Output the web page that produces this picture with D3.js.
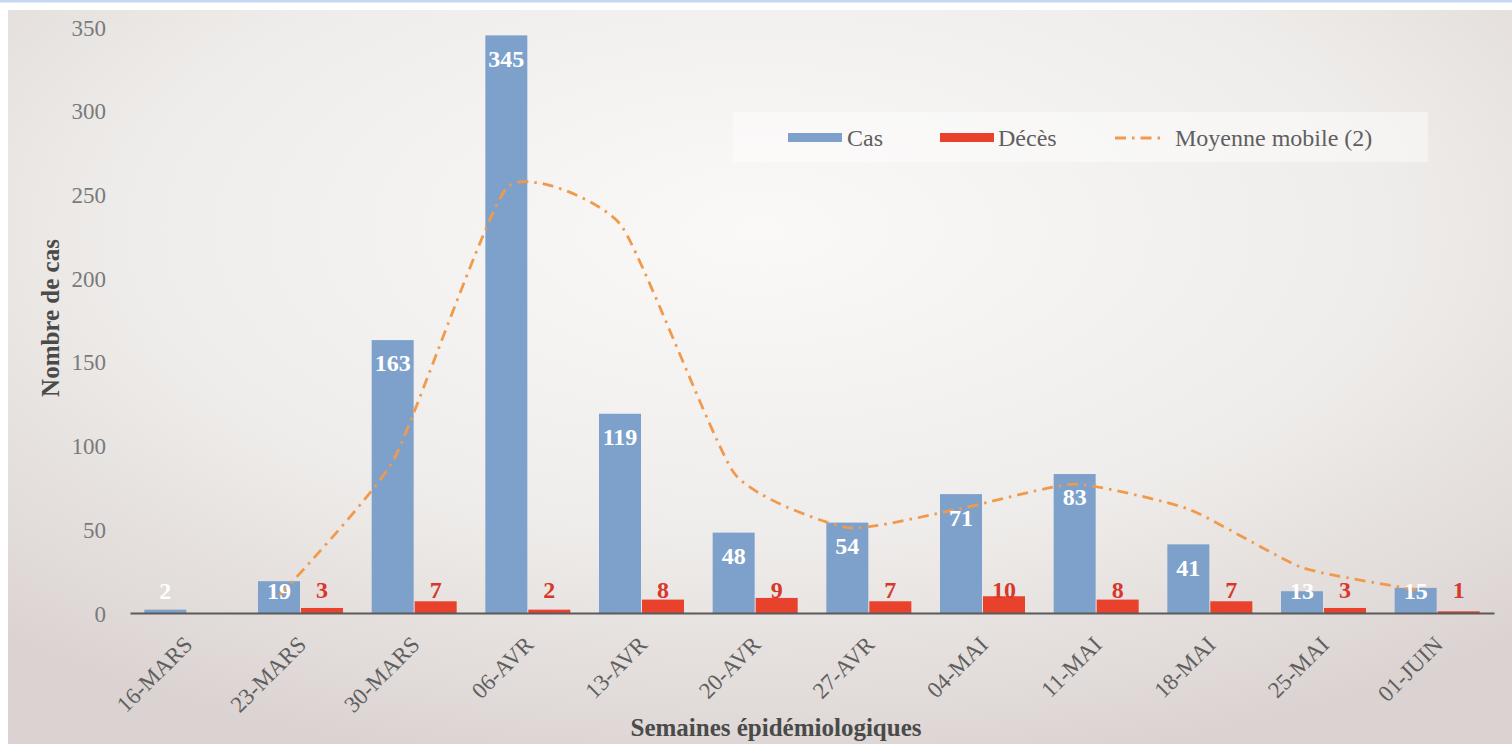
<!DOCTYPE html>
<html><head><meta charset="utf-8">
<script src="https://cdn.jsdelivr.net/npm/d3@7"></script>
<style>html,body{margin:0;padding:0;background:#fff;overflow:hidden}svg{display:block}</style>
</head><body>
<svg id="chart" width="1512" height="744"></svg>
<script>
const categories = ["16-MARS","23-MARS","30-MARS","06-AVR","13-AVR","20-AVR","27-AVR","04-MAI","11-MAI","18-MAI","25-MAI","01-JUIN"];
const cas = [2,19,163,345,119,48,54,71,83,41,13,15];
const deces = [0,3,7,2,8,9,7,10,8,7,3,1];
const moyenne = [null,10.5,91,254,232,83.5,51,62.5,77,62,27,14];
const yTicks = [0,50,100,150,200,250,300,350];
const seriesNames = ["Cas","Décès","Moyenne mobile (2)"];

const W = 1512, H = 744;
const svg = d3.select("#chart");
const font = "'Liberation Serif','Times New Roman',serif";
const colCas = "#7ea1cb", colDec = "#e8412c", colLine = "#f19a4b", txtGray = "#5f5f5f";

// background
const defs = svg.append("defs");
const rg = defs.append("radialGradient").attr("id","bg").attr("cx","50%").attr("cy","30%").attr("r","75%");
rg.append("stop").attr("offset","0%").attr("stop-color","#faf9f8");
rg.append("stop").attr("offset","55%").attr("stop-color","#efedeb");
rg.append("stop").attr("offset","100%").attr("stop-color","#dbd3d1");
svg.append("rect").attr("x",0).attr("y",0).attr("width",W).attr("height",H).attr("fill","#fff");
svg.append("rect").attr("x",0).attr("y",0).attr("width",W).attr("height",2.5).attr("fill","#c4d8ef");
svg.append("rect").attr("x",8).attr("y",10).attr("width",W-8).attr("height",H-10).attr("fill","url(#bg)");

const x = d3.scaleBand().domain(categories).range([130,1494]).paddingInner(0).paddingOuter(0);
const y = d3.scaleLinear().domain([0,350]).range([613,27]);
const bw = 42;
const cx = c => x(c) + x.bandwidth()/2;

// y tick labels
const yAxis = d3.axisLeft(y).tickValues(yTicks).tickSize(0).tickPadding(0);
const gy = svg.append("g").attr("transform","translate(106,0)").call(yAxis);
gy.select(".domain").remove();
gy.selectAll("text").attr("font-family",font).attr("font-size",23).attr("fill","#7a7a7a").attr("dy","0.35em");

// bars
svg.append("g").selectAll("rect").data(categories).join("rect")
  .attr("x",(c)=>cx(c)-bw-0.5).attr("width",bw)
  .attr("y",(c,i)=>y(cas[i])).attr("height",(c,i)=>y(0)-y(cas[i])).attr("fill",colCas);
svg.append("g").selectAll("rect").data(categories).join("rect")
  .attr("x",(c)=>cx(c)+0.5).attr("width",bw)
  .attr("y",(c,i)=>y(deces[i])).attr("height",(c,i)=>y(0)-y(deces[i])).attr("fill",colDec);

// baseline
const xAxis = d3.axisBottom(x).tickSize(0).tickPadding(0);
const gx = svg.append("g").attr("transform","translate(0,613)").call(xAxis);
gx.select(".domain").attr("stroke","#5a5a5a").attr("stroke-width",2.2);
gx.selectAll(".tick text").remove();
svg.append("g").selectAll("text").data(categories).join("text")
  .attr("transform",c=>`translate(${cx(c)+7},646) rotate(-45)`)
  .attr("text-anchor","end").attr("font-family",font).attr("font-size",23).attr("fill",txtGray)
  .text(c=>c);

// moving average line
const lineData = categories.map((c,i)=>({c, v: moyenne[i]})).filter(d=>d.v!=null);
const line = d3.line().x(d=>cx(d.c)-bw/2).y(d=>y(d.v)).curve(d3.curveCardinal.tension(0.5));
svg.append("path").datum(lineData).attr("d",line).attr("fill","none")
  .attr("stroke",colLine).attr("stroke-width",2.8).attr("stroke-dasharray","11,6,2.5,6");

// labels
svg.append("g").selectAll("text").data(categories).join("text")
  .attr("x",c=>cx(c)-bw/2-0.5).attr("y",(c,i)=>Math.min(y(cas[i])+23,591))
  .attr("dy","0.35em").attr("text-anchor","middle").attr("font-family",font)
  .attr("font-weight","bold").attr("font-size",24).attr("fill","#fff").text((c,i)=>cas[i]);
svg.append("g").selectAll("text").data(categories.filter((c,i)=>deces[i]>0)).join("text")
  .attr("x",c=>cx(c)+bw/2+0.5).attr("y",c=>Math.min(y(deces[categories.indexOf(c)])-6,590))
  .attr("dy","0.35em").attr("text-anchor","middle").attr("font-family",font)
  .attr("font-weight","bold").attr("font-size",24).attr("fill","#d8372a")
  .text(c=>deces[categories.indexOf(c)]);

// axis titles
svg.append("text").attr("transform","translate(50,318) rotate(-90)").attr("text-anchor","middle")
  .attr("dy","0.35em").attr("font-family",font).attr("font-weight","bold").attr("font-size",25)
  .attr("fill","#4a4a4a").text("Nombre de cas");
svg.append("text").attr("x",776).attr("y",727).attr("text-anchor","middle").attr("dy","0.35em")
  .attr("font-family",font).attr("font-weight","bold").attr("font-size",25).attr("fill","#4a4a4a")
  .text("Semaines épidémiologiques");

// legend
const lg = svg.append("g");
lg.append("rect").attr("x",733).attr("y",112).attr("width",695).attr("height",50).attr("fill","#ffffff").attr("opacity",0.45);
const ly = 138;
lg.append("rect").attr("x",788).attr("y",ly-5).attr("width",54).attr("height",9).attr("fill",colCas);
lg.append("text").attr("x",847).attr("y",ly).attr("dy","0.35em").attr("font-family",font).attr("font-size",24).attr("fill",txtGray).text(seriesNames[0]);
lg.append("rect").attr("x",940).attr("y",ly-5).attr("width",54).attr("height",9).attr("fill",colDec);
lg.append("text").attr("x",998).attr("y",ly).attr("dy","0.35em").attr("font-family",font).attr("font-size",24).attr("fill",txtGray).text(seriesNames[1]);
lg.append("line").attr("x1",1115).attr("x2",1162).attr("y1",ly).attr("y2",ly).attr("stroke",colLine).attr("stroke-width",2.8).attr("stroke-dasharray","11,6,2.5,6");
lg.append("text").attr("x",1175).attr("y",ly).attr("dy","0.35em").attr("font-family",font).attr("font-size",24).attr("fill",txtGray).text(seriesNames[2]);
</script>
</body></html>
